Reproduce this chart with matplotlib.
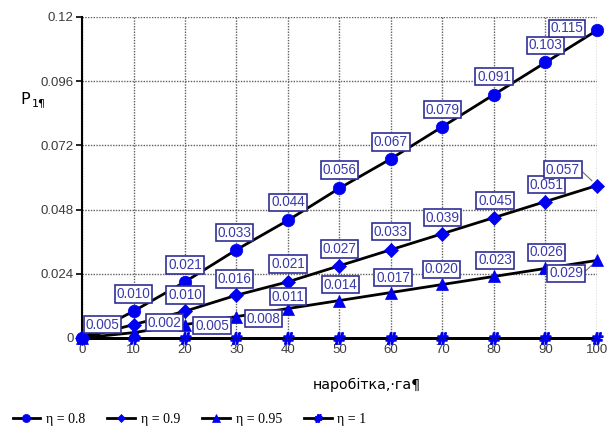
import matplotlib
matplotlib.use('Agg')
import matplotlib.pyplot as plt

# data
x = [0, 10, 20, 30, 40, 50, 60, 70, 80, 90, 100]
p_08 = [0, 0.010, 0.021, 0.033, 0.044, 0.056, 0.067, 0.079, 0.091, 0.103, 0.115]
p_09 = [0, 0.005, 0.010, 0.016, 0.021, 0.027, 0.033, 0.039, 0.045, 0.051, 0.057]
p_095 = [0, 0.002, 0.005, 0.008, 0.011, 0.014, 0.017, 0.020, 0.023, 0.026, 0.029]
p_1 = [0, 0, 0, 0, 0, 0, 0, 0, 0, 0, 0]
names = ['η = 0.8', 'η = 0.9', 'η = 0.95', 'η = 1']
yticks = [0, 0.024, 0.048, 0.072, 0.096, 0.12]
ytick_labels = ['0', '0.024', '0.048', '0.072', '0.096', '0.12']

# label placement (pixel offsets from point), None = no label
off_08 = [None, (0, 17), (0, 17), (-2, 17), (0, 18), (0, 18), (0, 17), (0, 17), (0, 18), (0, 17), (-30, 2)]
off_09 = [None, (-31, 0), (0, 16), (-2, 16), (0, 18), (0, 17), (0, 18), (0, 16), (1, 17), (1, 17), (-34, 16)]
off_095 = [None, (31, 10), (27, -1), (27, -2), (0, 12), (1, 16), (2, 15), (-1, 15), (1, 16), (1, 16), (-31, -13)]
leader = {(1, 10), (2, 10)}

BLUE = '#0000f0'
BOX_EC = '#2f2f96'
TXT = '#3a3aaa'

fig = plt.figure(figsize=(6.07, 4.30), dpi=100)
ax = fig.add_axes([0.1351, 0.214, 0.8484, 0.7465])

series = [p_08, p_09, p_095, p_1]
markers = ['o', 'D', '^', '$\\#$']
msizes = [9, 7, 8.5, 8]
for i, (vals, m, ms) in enumerate(zip(series, markers, msizes)):
    ax.plot(x, vals, color='black', lw=2, marker=m, ms=ms, mfc=BLUE, mec=BLUE,
            mew=0.5 if i < 3 else 1.2, clip_on=False, zorder=4 - i * 0.1,
            label=names[i])

for si, (vals, offs) in enumerate(zip([p_08, p_09, p_095], [off_08, off_09, off_095])):
    for j, (xv, yv, off) in enumerate(zip(x, vals, offs)):
        if off is None:
            continue
        arrow = None
        if (si, j) in leader:
            arrow = dict(arrowstyle='-', color='#707070', lw=0.8, shrinkA=0, shrinkB=5,
                         relpos=(1, 0.5))
        ax.annotate('%.3f' % yv, (xv, yv), xytext=off, textcoords='offset pixels',
                    ha='center', va='center', fontsize=9.8, color=TXT,
                    family='Liberation Sans', zorder=6, annotation_clip=False,
                    bbox=dict(boxstyle='square,pad=0.13', fc='white', ec=BOX_EC, lw=1.2),
                    arrowprops=arrow)

ax.set_xlim(0, 100)
ax.set_ylim(0, 0.12)
ax.set_xticks(x)
ax.set_yticks(yticks)
ax.set_yticklabels(ytick_labels)
ax.grid(True, color='#606060', ls=(0, (1, 1)), lw=1)
ax.set_axisbelow(True)
for s in ['top', 'right']:
    ax.spines[s].set_visible(False)
ax.spines['left'].set_linewidth(1.5)
ax.spines['bottom'].set_linewidth(2)
ax.tick_params(axis='y', length=4, width=1.2, labelsize=9.5, labelcolor='#3c3c3c', pad=2)
ax.tick_params(axis='x', length=0, labelsize=9.5, labelcolor='#3c3c3c', pad=4)
for t in ax.get_xticklabels() + ax.get_yticklabels():
    t.set_family('Liberation Sans')

fig.text(0.033, 0.768, 'P', fontsize=11.5, family='DejaVu Sans', va='center')
fig.text(0.053, 0.760, '1¶', fontsize=8, family='DejaVu Sans', va='center')
fig.text(0.605, 0.104, 'наробітка,·га¶', fontsize=10.2, family='DejaVu Sans',
         ha='center', va='center')

leg = fig.legend(loc='center left', bbox_to_anchor=(0.0, 0.024), ncol=4, frameon=False,
                 prop={'family': 'Liberation Serif', 'size': 10},
                 handlelength=2.0, handletextpad=0.4, columnspacing=1.6, markerscale=0.65)

fig.savefig('out.png', dpi=100)
